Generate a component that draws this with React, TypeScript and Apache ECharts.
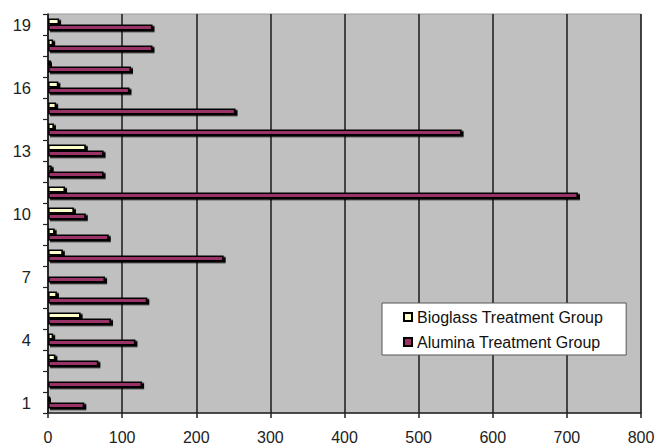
import React, { useEffect, useRef } from "react";
import * as echarts from "echarts";

const categories = ["1","2","3","4","5","6","7","8","9","10","11","12","13","14","15","16","17","18","19"];
const bioglass = [3, 2, 10, 7, 44, 12, 2, 20, 9, 35, 23, 5, 51, 8, 11, 14, 4, 7, 15];
const alumina = [49, 127, 68, 118, 85, 134, 77, 237, 82, 51, 715, 75, 75, 558, 253, 110, 112, 141, 141];
const xTicks = { min: 0, max: 800, interval: 100 };

export default function App() {
  const ref = useRef<HTMLDivElement>(null);
  useEffect(() => {
    const chart = echarts.init(ref.current!, null, { renderer: "svg" });
    const font = "'Liberation Sans', Arial, sans-serif";
    chart.setOption({
      animation: false,
      grid: {
        left: 48, right: 21, top: 14, bottom: 33,
        show: true, backgroundColor: "#C0C0C0", borderColor: "#9a9a9a", borderWidth: 1,
      },
      legend: {
        orient: "vertical",
        left: 382, top: 303,
        backgroundColor: "#fff",
        borderColor: "#555",
        borderWidth: 1,
        padding: [6, 23, 5, 21],
        itemWidth: 8, itemHeight: 8, itemGap: 9,
        icon: "rect",
        data: ["Bioglass Treatment Group", "Alumina Treatment Group"],
        textStyle: { fontFamily: font, fontSize: 16, color: "#111" },
      },
      xAxis: {
        type: "value",
        min: xTicks.min, max: xTicks.max, interval: xTicks.interval,
        axisLine: { show: true, lineStyle: { color: "#222", width: 1.5 } },
        axisTick: { show: true, length: 5, lineStyle: { color: "#222", width: 1.5 } },
        axisLabel: { fontFamily: font, fontSize: 16, color: "#222", margin: 16 },
        splitLine: { show: true, lineStyle: { color: "#1a1a1a", width: 1.5 } },
      },
      yAxis: {
        type: "category",
        data: categories,
        axisLine: { show: true, lineStyle: { color: "#222", width: 1.5 } },
        axisTick: { show: true, interval: 0, length: 5, lineStyle: { color: "#222", width: 1.2 } },
        axisLabel: { interval: 2, fontFamily: font, fontSize: 16.5, color: "#222", margin: 17 },
      },
      series: [
        {
          name: "Bioglass Treatment Group",
          type: "bar",
          data: bioglass,
          barWidth: 6,
          barGap: "0%",
          itemStyle: { color: "#FFFFCC", borderColor: "#000", borderWidth: 1.6,
            shadowColor: "#000", shadowOffsetX: 2, shadowOffsetY: 1.5, shadowBlur: 0 },
        },
        {
          name: "Alumina Treatment Group",
          type: "bar",
          data: alumina,
          barWidth: 6,
          itemStyle: { color: "#993366", borderColor: "#000", borderWidth: 1.6,
            shadowColor: "#000", shadowOffsetX: 2, shadowOffsetY: 1.5, shadowBlur: 0 },
        },
      ],
    });
    return () => chart.dispose();
  }, []);
  return <div ref={ref} style={{ width: 662, height: 446, position: "absolute", left: 0, top: 0 }} />;
}
